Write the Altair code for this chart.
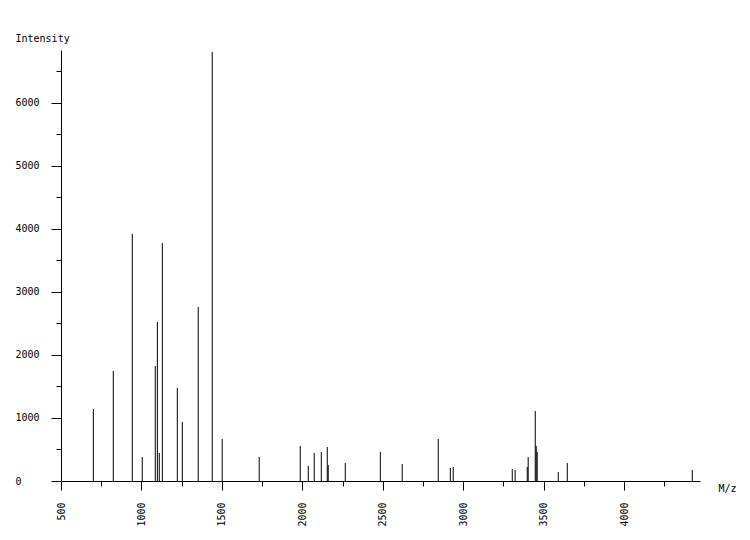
import altair as alt
import pandas as pd

mz = [701, 825, 943, 1005, 1086, 1099, 1111, 1130, 1223, 1254, 1353, 1440, 1502,
      1732, 1987, 2037, 2074, 2118, 2155, 2161, 2267, 2485, 2621, 2845, 2920, 2938,
      3305, 3323, 3398, 3404, 3448, 3454, 3460, 3591, 3647, 4424]
intensity = [1143, 1746, 3921, 381, 1825, 2524, 444, 3778, 1476, 937, 2762, 6810, 667,
             381, 556, 238, 444, 460, 540, 254, 286, 460, 270, 667, 206, 222,
             190, 175, 222, 381, 1111, 556, 460, 143, 286, 175]

x_ticks = list(range(500, 4500, 250))
y_ticks = list(range(0, 7000, 500))

df = pd.DataFrame({"mz": mz, "intensity": intensity, "base": [0] * len(mz)})

FONT = "DejaVu Sans Mono"

x_axis = alt.Axis(
    values=x_ticks,
    labelExpr="datum.value % 500 === 0 ? datum.label : ''",
    format="d",
    labelAngle=270,
    labelAlign="right",
    labelBaseline="middle",
    labelPadding=12,
    tickSize={"condition": {"test": "datum.value % 500 === 0", "value": 9}, "value": 5},
    tickColor="black",
    domainColor="black",
    labelColor="black",
    labelFont=FONT,
    labelFontSize=10,
    grid=False,
    title="M/z",
    titleFont=FONT,
    titleFontSize=10,
    titleFontWeight="normal",
    titleColor="black",
    titleAngle=0,
    titleAlign="left",
    titleBaseline="alphabetic",
    titleX=657,
    titleY=10,
    labelOverlap=False,
)

y_axis = alt.Axis(
    values=y_ticks,
    labelExpr="datum.value % 1000 === 0 ? datum.label : ''",
    format="d",
    labelAlign="left",
    labelBaseline="middle",
    labelPadding=36,
    tickSize={"condition": {"test": "datum.value % 1000 === 0", "value": 10}, "value": 5},
    tickColor="black",
    domainColor="black",
    labelColor="black",
    labelFont=FONT,
    labelFontSize=10,
    grid=False,
    title="Intensity",
    titleFont=FONT,
    titleFontSize=10,
    titleFontWeight="normal",
    titleColor="black",
    titleAngle=0,
    titleAlign="left",
    titleBaseline="alphabetic",
    titleX=-46,
    titleY=-9,
    labelOverlap=False,
)

chart = alt.Chart(df).mark_rule(color="black", strokeWidth=1).encode(
    x=alt.X("mz:Q", scale=alt.Scale(domain=[500, 4472], nice=False, zero=False), axis=x_axis),
    y=alt.Y("base:Q", scale=alt.Scale(domain=[0, 6840], nice=False), axis=y_axis),
    y2="intensity:Q",
).properties(
    width=639,
    height=431,
    autosize=alt.AutoSizeParams(type="none"),
    padding={"left": 53, "top": 42, "right": 42, "bottom": 51},
    background="white",
).configure_view(stroke=None)

chart.save("out.html", embed_options={"renderer": "svg", "actions": False})
